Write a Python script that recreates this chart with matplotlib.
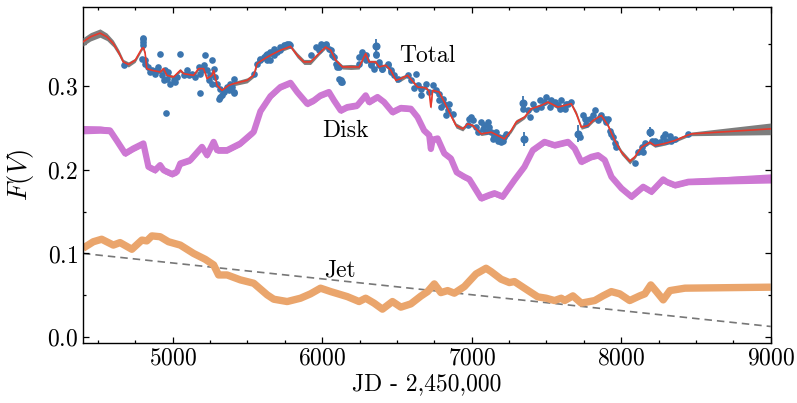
import numpy as np
import matplotlib
matplotlib.use("Agg")
import matplotlib.pyplot as plt
from matplotlib.ticker import MultipleLocator

plt.rcParams["font.family"] = "serif"
plt.rcParams["font.serif"] = ["cmr10"]
plt.rcParams["mathtext.fontset"] = "cm"
plt.rcParams["axes.unicode_minus"] = False
plt.rcParams["axes.formatter.use_mathtext"] = True

# total model (red line) and its uncertainty half-width (grey band)
total_jd = [4400, 4450, 4514, 4560, 4603, 4640, 4670, 4704, 4749, 4794, 4805, 4816,
            4827, 4861, 4916, 4939, 4961, 5006, 5051, 5073, 5140, 5173, 5207, 5230,
            5263, 5274, 5297, 5330, 5375, 5408, 5498, 5542, 5565, 5598, 5654, 5721,
            5788, 5833, 5878, 5922, 5978, 6023, 6057, 6090, 6135, 6191, 6247, 6291,
            6314, 6358, 6381, 6426, 6459, 6493, 6526, 6571, 6638, 6694, 6715, 6727,
            6739, 6783, 6817, 6861, 6895, 6940, 6973, 7007, 7063, 7130, 7197, 7219,
            7264, 7297, 7353, 7398, 7465, 7510, 7577, 7622, 7666, 7700, 7733, 7778,
            7812, 7867, 7912, 7957, 8002, 8057, 8091, 8136, 8191, 8225, 8292, 8359,
            8438, 8471, 9000]
total_f = [0.353, 0.359, 0.3635, 0.359, 0.351, 0.340, 0.329, 0.326, 0.331, 0.345, 0.346, 0.339,
           0.321, 0.319, 0.317, 0.321, 0.313, 0.311, 0.319, 0.315, 0.313, 0.321, 0.321, 0.309,
           0.313, 0.319, 0.301, 0.295, 0.301, 0.303, 0.307, 0.313, 0.327, 0.331, 0.337, 0.343,
           0.3476, 0.337, 0.329, 0.329, 0.339, 0.3468, 0.343, 0.331, 0.323, 0.323, 0.323, 0.339,
           0.329, 0.329, 0.323, 0.325, 0.319, 0.307, 0.309, 0.313, 0.299, 0.298, 0.294, 0.275,
           0.295, 0.293, 0.281, 0.265, 0.253, 0.249, 0.255, 0.253, 0.243, 0.245, 0.239, 0.237,
           0.247, 0.257, 0.263, 0.273, 0.277, 0.281, 0.275, 0.277, 0.279, 0.267, 0.251, 0.253,
           0.259, 0.265, 0.253, 0.235, 0.221, 0.210, 0.2155, 0.227, 0.233, 0.229, 0.2315, 0.235,
           0.241, 0.243, 0.249]
total_sig = [0.005, 0.005, 0.005, 0.0045, 0.004, 0.0035, 0.003, 0.003, 0.0025, 0.002, 0.002, 0.002,
             0.002, 0.002, 0.002, 0.002, 0.002, 0.002, 0.002, 0.002, 0.002, 0.002, 0.002, 0.002,
             0.002, 0.002, 0.002, 0.002, 0.002, 0.0025, 0.003, 0.0025, 0.002, 0.002, 0.002, 0.002,
             0.002, 0.003, 0.003, 0.003, 0.002, 0.002, 0.002, 0.002, 0.0025, 0.003, 0.0025, 0.002,
             0.002, 0.002, 0.002, 0.002, 0.002, 0.0025, 0.003, 0.002, 0.002, 0.002, 0.002, 0.002,
             0.002, 0.002, 0.002, 0.0025, 0.003, 0.0025, 0.002, 0.002, 0.002, 0.002, 0.002, 0.002,
             0.0025, 0.003, 0.002, 0.002, 0.002, 0.002, 0.002, 0.002, 0.002, 0.003, 0.0025, 0.002,
             0.002, 0.002, 0.002, 0.0025, 0.003, 0.003, 0.002, 0.002, 0.002, 0.002, 0.002, 0.002,
             0.002, 0.0022, 0.007]

# disk component
disk_jd = [4400, 4514, 4581, 4626, 4682, 4737, 4804, 4838, 4883, 4916, 4939, 4995,
           5028, 5051, 5118, 5196, 5230, 5274, 5297, 5364, 5453, 5542, 5587, 5654,
           5721, 5788, 5833, 5900, 5945, 5989, 6045, 6079, 6124, 6168, 6235, 6291,
           6314, 6370, 6414, 6470, 6526, 6593, 6638, 6682, 6716, 6727, 6739, 6772,
           6817, 6861, 6900, 6951, 6984, 7029, 7063, 7119, 7152, 7208, 7286, 7353,
           7409, 7487, 7554, 7644, 7689, 7733, 7800, 7845, 7890, 7935, 8002, 8069,
           8147, 8203, 8281, 8303, 8359, 8449, 9000]
disk_f = [0.248, 0.248, 0.247, 0.235, 0.2196, 0.2255, 0.2315, 0.2036, 0.1996, 0.2056, 0.1996, 0.195,
          0.1976, 0.2076, 0.2116, 0.2274, 0.2175, 0.2334, 0.2235, 0.2235, 0.2315, 0.2453, 0.270, 0.288,
          0.299, 0.304, 0.293, 0.279, 0.283, 0.289, 0.293, 0.283, 0.271, 0.275, 0.277, 0.289,
          0.281, 0.287, 0.281, 0.269, 0.274, 0.273, 0.263, 0.247, 0.2414, 0.225, 0.236, 0.2375,
          0.2196, 0.2135, 0.197, 0.1916, 0.1887, 0.1758, 0.166, 0.170, 0.172, 0.168, 0.1877, 0.2036,
          0.2235, 0.2334, 0.2295, 0.2334, 0.2255, 0.2096, 0.2155, 0.2175, 0.2116, 0.1916, 0.1778, 0.1678,
          0.1797, 0.1738, 0.1885, 0.1857, 0.1817, 0.1857, 0.1897]
# disk band half-width, only wider at the two ends
disk_end_jd = [4400, 4600, 8450, 9000]
disk_end_sig = [0.0050, 0.0038, 0.0036, 0.0055]

# jet component
jet_jd = [4400, 4469, 4525, 4603, 4648, 4727, 4794, 4827, 4861, 4916, 4972, 5051,
          5140, 5218, 5274, 5307, 5364, 5453, 5542, 5632, 5676, 5766, 5855, 5922,
          5989, 6057, 6168, 6247, 6291, 6347, 6403, 6470, 6526, 6593, 6660, 6705,
          6750, 6794, 6839, 6884, 6951, 7029, 7096, 7130, 7197, 7252, 7286, 7353,
          7442, 7498, 7554, 7599, 7622, 7677, 7733, 7823, 7878, 7934, 7990, 8057,
          8124, 8158, 8198, 8236, 8281, 8326, 8426, 9000]
jet_f = [0.1062, 0.114, 0.117, 0.110, 0.113, 0.105, 0.116, 0.115, 0.121, 0.120, 0.114, 0.110,
         0.100, 0.093, 0.0863, 0.0743, 0.0743, 0.0684, 0.0644, 0.0505, 0.0453, 0.0425, 0.0465, 0.0517,
         0.0585, 0.0544, 0.0484, 0.0425, 0.0465, 0.0406, 0.0334, 0.0425, 0.0358, 0.0397, 0.0490, 0.0544,
         0.0636, 0.0532, 0.0556, 0.0525, 0.0604, 0.0755, 0.0823, 0.0783, 0.0692, 0.0652, 0.0664, 0.0585,
         0.0481, 0.0465, 0.0437, 0.0465, 0.0437, 0.0493, 0.0406, 0.0437, 0.0493, 0.0544, 0.0517, 0.0437,
         0.0493, 0.0517, 0.0624, 0.0544, 0.0445, 0.0556, 0.0585, 0.0597]

# linear trend (dashed)
trend_jd = [4400, 9000]
trend_f = [0.100, 0.0127]

# photometry
obs_jd = [4677, 4802, 4804, 4804, 4804, 4794, 4816, 4816, 4838, 4849, 4861, 4883, 4894,
          4905, 4916, 4928, 4939, 4950, 4956, 4961, 4972, 4983, 5006, 5017, 5028, 5051,
          5073, 5095, 5106, 5129, 5151, 5173, 5180, 5185, 5196, 5207, 5218, 5230, 5240,
          5252, 5263, 5263, 5274, 5285, 5297, 5307, 5315, 5319, 5330, 5341, 5364, 5375,
          5386, 5397, 5408, 5408, 5412,
          5542, 5565, 5587, 5587, 5609, 5621, 5632, 5632, 5654, 5654, 5676, 5676, 5699,
          5721, 5721, 5743, 5755, 5766, 5777, 5788,
          5922, 5956, 5978, 5989, 6000, 6023, 6023, 6045, 6057, 6068, 6079, 6090, 6101,
          6113, 6113, 6124, 6124, 6135,
          6247, 6247, 6269, 6269, 6291, 6291, 6325, 6325, 6347, 6358, 6358, 6381, 6381,
          6403, 6403, 6437, 6437, 6459, 6459, 6481, 6504,
          6571, 6593, 6615, 6627, 6638, 6660, 6660, 6694, 6716, 6739, 6761, 6783, 6783,
          6794, 6806, 6817, 6828, 6839, 6850, 6872,
          6973, 6984, 6995, 7007, 7029, 7040, 7063, 7074, 7085, 7096, 7108, 7119, 7130,
          7141, 7152, 7163, 7175, 7186, 7197, 7208, 7219, 7230,
          7342, 7375, 7387, 7409, 7431, 7454, 7465, 7487, 7498, 7521, 7532, 7554, 7577,
          7588, 7599, 7622, 7633, 7644, 7666,
          7722, 7744, 7756, 7767, 7789, 7812, 7823, 7845, 7856, 7867, 7890, 7901, 7912,
          7923, 7934, 7945, 7957, 7968,
          8091, 8113, 8136, 8147, 8158, 8203, 8225, 8236, 8258, 8281, 8292, 8303, 8326,
          8336, 8359, 8448]
obs_f = [0.325, 0.358, 0.357, 0.353, 0.349, 0.333, 0.327, 0.331, 0.323, 0.317, 0.319, 0.315, 0.319,
         0.323, 0.339, 0.313, 0.307, 0.319, 0.268, 0.309, 0.317, 0.303, 0.307, 0.305, 0.311, 0.339,
         0.313, 0.319, 0.313, 0.315, 0.311, 0.323, 0.292, 0.315, 0.319, 0.325, 0.337, 0.319, 0.307,
         0.313, 0.331, 0.303, 0.321, 0.311, 0.303, 0.285, 0.287, 0.297, 0.289, 0.293, 0.299, 0.295,
         0.303, 0.299, 0.309, 0.292, 0.293,
         0.315, 0.327, 0.331, 0.333, 0.335, 0.337, 0.339, 0.331, 0.341, 0.331, 0.345, 0.337, 0.341,
         0.347, 0.343, 0.349, 0.349, 0.351, 0.351, 0.349,
         0.337, 0.347, 0.343, 0.351, 0.349, 0.351, 0.349, 0.345, 0.343, 0.337, 0.335, 0.327, 0.323,
         0.323, 0.309, 0.307, 0.305, 0.305,
         0.335, 0.327, 0.341, 0.337, 0.337, 0.331, 0.327, 0.325, 0.321, 0.339, 0.337, 0.325, 0.329,
         0.321, 0.321, 0.327, 0.325, 0.319, 0.317, 0.313, 0.309,
         0.313, 0.307, 0.298, 0.314, 0.301, 0.297, 0.289, 0.303, 0.293, 0.301, 0.295, 0.291, 0.283,
         0.275, 0.285, 0.279, 0.265, 0.271, 0.279, 0.267,
         0.253, 0.261, 0.263, 0.259, 0.251, 0.245, 0.257, 0.249, 0.253, 0.247, 0.257, 0.251, 0.245,
         0.237, 0.241, 0.245, 0.235, 0.239, 0.233, 0.235, 0.239, 0.243,
         0.273, 0.271, 0.263, 0.279, 0.273, 0.283, 0.275, 0.281, 0.287, 0.275, 0.283, 0.281, 0.277,
         0.273, 0.283, 0.273, 0.279, 0.279, 0.281,
         0.239, 0.265, 0.261, 0.255, 0.261, 0.265, 0.271, 0.259, 0.263, 0.265, 0.261, 0.257, 0.261,
         0.247, 0.243, 0.239, 0.2315, 0.227,
         0.2076, 0.2215, 0.227, 0.2215, 0.2315, 0.235, 0.235, 0.2315, 0.233, 0.239, 0.243, 0.235, 0.241,
         0.235, 0.237, 0.243]

# photometry with noticeable error bars
err_jd = [6358, 7342, 7353, 7711, 8191]
err_f = [0.348, 0.280, 0.237, 0.243, 0.245]
err_size = [0.009, 0.008, 0.008, 0.010, 0.006]

fig = plt.figure(figsize=(7.97, 4.03), dpi=100)
ax = fig.add_axes([0.1041, 0.149, 0.8629, 0.8343])

total_f = np.array(total_f)
total_sig = np.array(total_sig)
disk_f = np.array(disk_f)

ax.plot(trend_jd, trend_f, color="#777777", lw=1.2, dashes=(4.5, 3), zorder=1)
ax.plot(jet_jd, jet_f, color="#eaa56c", lw=5.3, solid_joinstyle="round",
        solid_capstyle="butt", zorder=2)

# disk: thick line so the band keeps its width on steep parts, plus a fill for the ends
disk_c = "#cd78d3"
ax.plot(disk_jd, disk_f, color=disk_c, lw=4.5, solid_joinstyle="round",
        solid_capstyle="butt", zorder=2)
dsig = np.interp(disk_jd, disk_end_jd, disk_end_sig)
ax.fill_between(disk_jd, disk_f - dsig, disk_f + dsig, color=disk_c, lw=0, zorder=2)

ax.fill_between(total_jd, total_f - total_sig, total_f + total_sig, color="#7d7d7d",
                lw=0, zorder=3)
ax.errorbar(err_jd, err_f, yerr=err_size, fmt="o", color="#3b75af", ms=4.8,
            elinewidth=1.3, capsize=0, zorder=4)
ax.plot(obs_jd, obs_f, "o", color="#3b75af", ms=4.8, mew=0, zorder=4)
ax.plot(total_jd, total_f, color="#e8392b", lw=1.2, zorder=5)

ax.text(6515, 0.3285, "Total", fontsize=17, va="baseline", ha="left")
ax.text(6003, 0.2394, "Disk", fontsize=17, va="baseline", ha="left")
ax.text(6010, 0.0725, "Jet", fontsize=17, va="baseline", ha="left")

ax.set_xlim(4400, 9000)
ax.set_ylim(-0.007, 0.395)
ax.xaxis.set_major_locator(MultipleLocator(1000))
ax.xaxis.set_minor_locator(MultipleLocator(250))
ax.yaxis.set_major_locator(MultipleLocator(0.1))
ax.yaxis.set_minor_locator(MultipleLocator(0.05))
ax.tick_params(which="both", direction="in", top=True, right=True, labelsize=17, width=0.9)
ax.tick_params(which="major", length=4.5)
ax.tick_params(which="minor", length=2.5)
for s in ax.spines.values():
    s.set_linewidth(1.0)

ax.set_xlabel("JD - 2,450,000", fontsize=17, labelpad=2)
ax.set_ylabel(r"$F(V)$", fontsize=19, labelpad=8)

fig.savefig("out.png", dpi=100)
